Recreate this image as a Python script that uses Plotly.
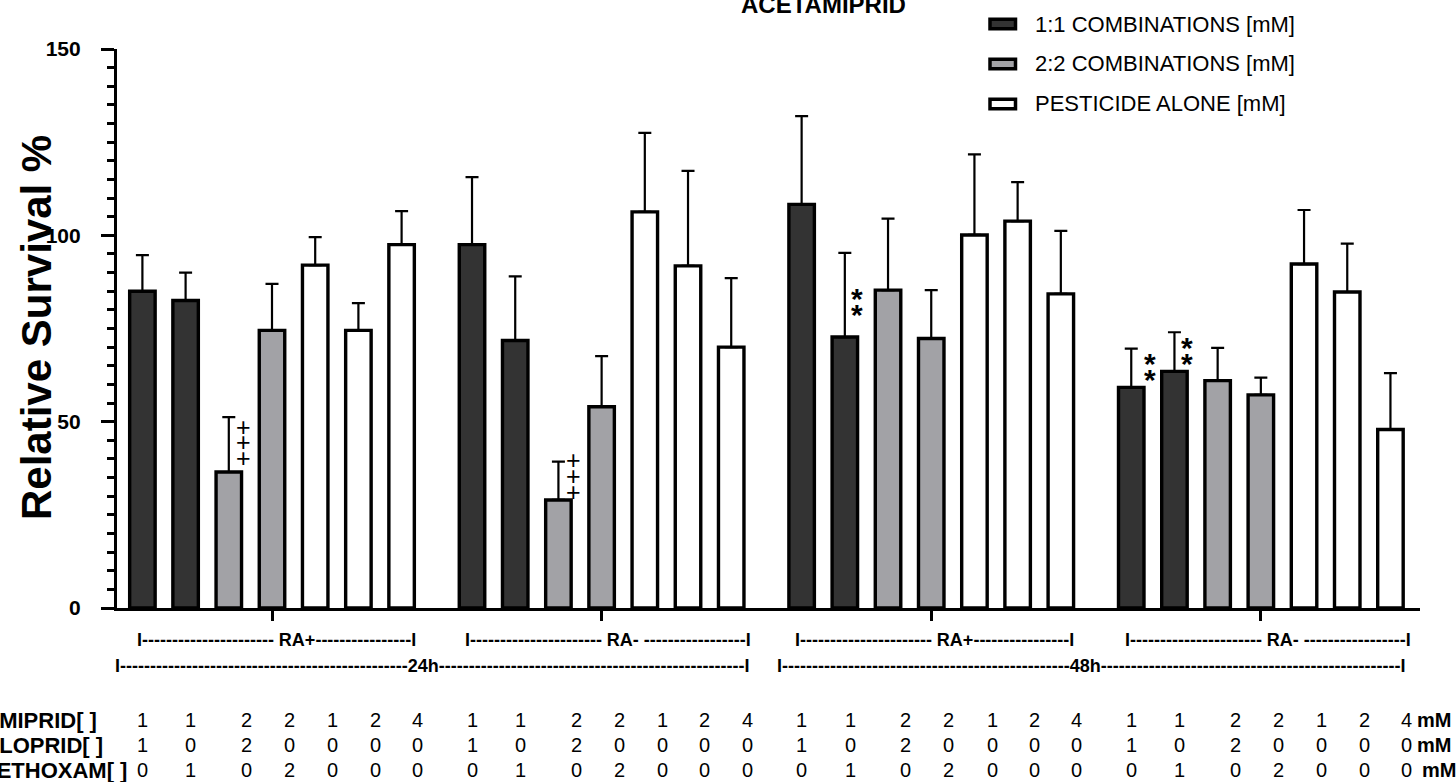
import plotly.graph_objects as go

# ---------------- data ----------------
group_labels = ["RA+", "RA-", "RA+", "RA-"]
time_labels = ["24h", "48h"]
bar_types = ["1:1", "1:1", "2:2", "2:2", "alone", "alone", "alone",
             "1:1", "1:1", "2:2", "2:2", "alone", "alone", "alone",
             "1:1", "1:1", "2:2", "2:2", "alone", "alone", "alone",
             "1:1", "1:1", "2:2", "2:2", "alone", "alone", "alone"]
survival = [85.0, 82.5, 36.5, 74.5, 92.0, 74.5, 97.5,
            97.5, 71.8, 29.0, 54.0, 106.3, 91.8, 70.0,
            108.3, 72.7, 85.3, 72.3, 100.1, 103.8, 84.3,
            59.2, 63.5, 61.0, 57.2, 92.3, 84.8, 47.9]
err_plus = [9.7, 7.5, 14.7, 12.5, 7.5, 7.3, 9.0,
            18.1, 17.2, 10.3, 13.6, 21.2, 25.5, 18.5,
            23.7, 22.6, 19.2, 13.0, 21.6, 10.5, 16.9,
            10.4, 10.5, 8.8, 4.6, 14.5, 13.0, 15.1]
acetamiprid = [1, 1, 2, 2, 1, 2, 4, 1, 1, 2, 2, 1, 2, 4,
               1, 1, 2, 2, 1, 2, 4, 1, 1, 2, 2, 1, 2, 4]
imidacloprid = [1, 0, 2, 0, 0, 0, 0, 1, 0, 2, 0, 0, 0, 0,
                1, 0, 2, 0, 0, 0, 0, 1, 0, 2, 0, 0, 0, 0]
thiamethoxam = [0, 1, 0, 2, 0, 0, 0, 0, 1, 0, 2, 0, 0, 0,
                0, 1, 0, 2, 0, 0, 0, 0, 1, 0, 2, 0, 0, 0]
row_names = ["ACETAMIPRID[ ]", "IMIDACLOPRID[ ]", "THIAMETHOXAM[ ]"]
legend_names = {"1:1": "1:1 COMBINATIONS [mM]",
                "2:2": "2:2 COMBINATIONS [mM]",
                "alone": "PESTICIDE ALONE [mM]"}
# significance marks: bar index and symbol
mark_bars = [2, 9, 15, 21, 22]
mark_symbols = ["+", "+", "*", "*", "*"]

# ---------------- layout helpers ----------------
W, H = 1456, 782
L, R, T, B = 117, 1420, 49, 608
X0, SLOT = 142.4, 43.2
GROUP_STEP = 7.63
FONT = "Liberation Sans, Arial, sans-serif"
COLORS = {"1:1": "#333333", "2:2": "#a2a2a6", "alone": "#ffffff"}
# placement of the significance marks (x offset in slots, y levels in axis units)
MARK_DX = [0.33, 0.34, 0.28, 0.43, 0.29]
MARK_Y = [[48.6, 44.5, 40.2], [39.7, 35.3, 31.1], [84.8, 80.6], [67.4, 63.1], [71.9, 67.6]]


def px_x(px):
    return (px - L) / (R - L)


def px_y(py):
    return (B - py) / (B - T)


xpos = [(i // 7) * GROUP_STEP + (i % 7) for i in range(len(survival))]

fig = go.Figure()
for t in ["1:1", "2:2", "alone"]:
    idx = [i for i, bt in enumerate(bar_types) if bt == t]
    fig.add_trace(go.Bar(
        x=[xpos[i] for i in idx],
        y=[survival[i] for i in idx],
        width=0.59,
        name=legend_names[t],
        marker=dict(color=COLORS[t], line=dict(color="black", width=3.4)),
        error_y=dict(type="data", symmetric=False,
                     array=[err_plus[i] for i in idx],
                     arrayminus=[0] * len(idx),
                     color="black", thickness=2.2, width=6.5),
        showlegend=False,
    ))

annotations = []
shapes = []

# title
annotations.append(dict(text="<b>ACETAMIPRID</b>", x=px_x(823), y=px_y(4),
                        xref="paper", yref="paper", showarrow=False,
                        xanchor="center", yanchor="middle",
                        font=dict(family=FONT, size=24, color="black")))

# y axis title
annotations.append(dict(text="<b>Relative Survival %</b>", x=px_x(36), y=px_y(328),
                        xref="paper", yref="paper", showarrow=False, textangle=-90,
                        xanchor="center", yanchor="middle",
                        font=dict(family=FONT, size=42, color="black")))

# manual legend
for t, cy in zip(["1:1", "2:2", "alone"], [24, 64, 104]):
    shapes.append(dict(type="rect", xref="paper", yref="paper",
                       x0=px_x(990), x1=px_x(1015.5), y0=px_y(cy + 4.8), y1=px_y(cy - 4.8),
                       fillcolor=COLORS[t], line=dict(color="black", width=3.5)))
    annotations.append(dict(text=legend_names[t], x=px_x(1033), y=px_y(cy),
                            xref="paper", yref="paper", showarrow=False,
                            xanchor="left", yanchor="middle",
                            font=dict(family=FONT, size=22, color="black")))

# significance marks
for bi, sym, dx, ys_list in zip(mark_bars, mark_symbols, MARK_DX, MARK_Y):
    if sym == "+":
        fs, shift, bold = 25, 0, False
    else:
        fs, shift, bold = 30, -7, True
    for yv in ys_list:
        annotations.append(dict(text=("<b>" + sym + "</b>") if bold else sym,
                                x=xpos[bi] + dx, y=yv,
                                xref="x", yref="y", showarrow=False,
                                xanchor="center", yanchor="middle", yshift=shift,
                                font=dict(family=FONT, size=fs, color="black")))

# group bracket labels
ra_spans = [(137, 22, 16), (465, 22, 17), (795, 22, 16), (1125, 22, 17)]
for (start, n, m), g in zip(ra_spans, group_labels):
    if g == "RA+":
        s = "I" + "-" * n + " RA+" + "-" * m + "I"
    else:
        s = "I" + "-" * n + " RA- " + "-" * m + "I"
    annotations.append(dict(text="<b>" + s + "</b>", x=px_x(start - 2), y=px_y(640),
                            xref="paper", yref="paper", showarrow=False,
                            xanchor="left", yanchor="middle",
                            font=dict(family=FONT, size=18, color="black")))
for start, lab, n, m in [(115, time_labels[0], 48, 51), (777, time_labels[1], 48, 50)]:
    s = "I" + "-" * n + lab + "-" * m + "I"
    annotations.append(dict(text="<b>" + s + "</b>", x=px_x(start - 2), y=px_y(666),
                            xref="paper", yref="paper", showarrow=False,
                            xanchor="left", yanchor="middle",
                            font=dict(family=FONT, size=18, color="black")))

# concentration table
col_shift = [0.0, 0.12, 0.41, 0.41, 0.41, 0.39, 0.37]
rows = [acetamiprid, imidacloprid, thiamethoxam]
row_y = [720, 745, 770]
row_label_right = [99, 105, 129]
unit_left = [1415, 1415, 1420]
for r, (vals, ry) in enumerate(zip(rows, row_y)):
    annotations.append(dict(text="<b>" + row_names[r] + "</b>", x=px_x(row_label_right[r]),
                            y=px_y(ry), xref="paper", yref="paper", showarrow=False,
                            xanchor="right", yanchor="middle",
                            font=dict(family=FONT, size=22, color="black")))
    for i, v in enumerate(vals):
        annotations.append(dict(text=str(v), x=xpos[i] + col_shift[i % 7], y=px_y(ry),
                                xref="x", yref="paper", showarrow=False,
                                xanchor="center", yanchor="middle",
                                font=dict(family=FONT, size=20, color="black")))
    annotations.append(dict(text="<b>mM</b>", x=px_x(unit_left[r]), y=px_y(ry),
                            xref="paper", yref="paper", showarrow=False,
                            xanchor="left", yanchor="middle",
                            font=dict(family=FONT, size=20, color="black")))

group_centers = [g * GROUP_STEP + 3 for g in range(4)]

fig.update_layout(
    width=W, height=H, autosize=False,
    margin=dict(l=L, r=W - R, t=T, b=H - B, pad=0),
    paper_bgcolor="white", plot_bgcolor="white",
    barmode="overlay",
    showlegend=False,
    annotations=annotations,
    shapes=shapes,
    xaxis=dict(range=[(L - X0) / SLOT, (R - X0) / SLOT], showgrid=False, zeroline=False,
               showline=True, linecolor="black", linewidth=3.2,
               ticks="outside", tickvals=group_centers, ticklen=10, tickwidth=3,
               tickcolor="black", showticklabels=False),
    yaxis=dict(range=[0, 150], showgrid=False, zeroline=False,
               showline=True, linecolor="black", linewidth=3.2,
               ticks="outside", tickvals=[0, 50, 100, 150], ticklen=13, tickwidth=3.2,
               tickcolor="black", ticklabelstandoff=16,
               tickfont=dict(family=FONT, size=21, color="black", weight="bold"),
               minor=dict(dtick=5, ticks="outside", ticklen=7, tickwidth=2.6,
                          tickcolor="black", showgrid=False)),
)

fig.write_html("out.html")
